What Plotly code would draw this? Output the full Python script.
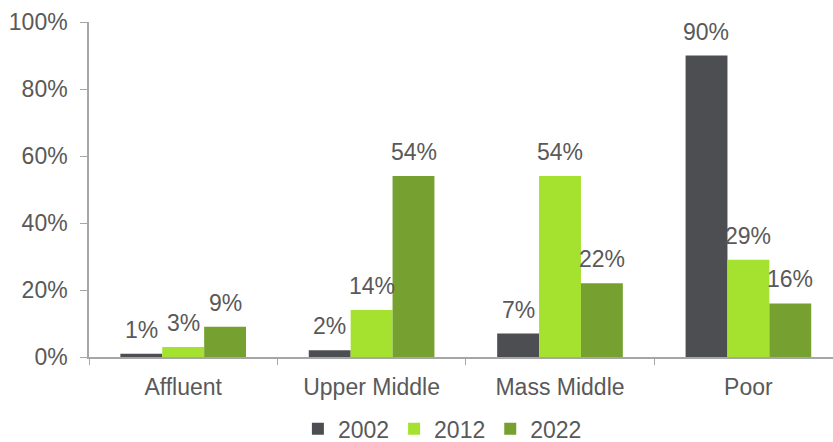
import plotly.graph_objects as go

categories = ["Affluent", "Upper Middle", "Mass Middle", "Poor"]
years = ["2002", "2012", "2022"]
share_2002 = [1, 2, 7, 90]
share_2012 = [3, 14, 54, 29]
share_2022 = [9, 54, 22, 16]

colors = ["#4d4e52", "#a4e22f", "#76a131"]
text_color = "#595959"
axis_color = "#a6a6a6"
font = "Liberation Sans, Arial, sans-serif"
fsize = 23

series = [share_2002, share_2012, share_2022]

fig = go.Figure()
for name, vals, col in zip(years, series, colors):
    fig.add_trace(go.Bar(
        x=categories,
        y=vals,
        name=name,
        marker=dict(color=col, line=dict(width=0)),
    ))

# value labels above bars
bar_px = 42
for i, vals in enumerate(series):
    for cat, v in zip(categories, vals):
        fig.add_annotation(
            x=cat, y=v, text=f"{v}%",
            showarrow=False,
            xanchor="center", yanchor="bottom",
            xshift=(i - 1) * bar_px, yshift=9,
            font=dict(family=font, size=fsize, color=text_color),
        )

fig.update_layout(
    width=833, height=442,
    margin=dict(l=89, r=0, t=22, b=85, autoexpand=False),
    plot_bgcolor="white",
    paper_bgcolor="white",
    barmode="group",
    bargap=0.333,
    bargroupgap=0,
    font=dict(family=font, size=fsize, color=text_color),
    showlegend=True,
    legend=dict(
        orientation="h",
        x=0.475, xanchor="center",
        yref="container",
        y=0.03, yanchor="middle",
        font=dict(family=font, size=fsize, color=text_color),
        itemwidth=30,
        traceorder="normal",
    ),
    xaxis=dict(
        range=[-0.5, 3.449],
        automargin=False,
        showline=True,
        linecolor=axis_color,
        linewidth=1.5,
        ticks="outside",
        tickson="boundaries",
        ticklen=6,
        tickcolor=axis_color,
        showgrid=False,
        ticklabelstandoff=9,
        tickfont=dict(family=font, size=fsize, color=text_color),
    ),
    yaxis=dict(
        range=[0, 100],
        automargin=False,
        tickvals=[0, 20, 40, 60, 80, 100],
        ticktext=["0%", "20%", "40%", "60%", "80%", "100%"],
        showline=True,
        linecolor=axis_color,
        linewidth=1.5,
        ticks="outside",
        ticklen=7,
        tickcolor=axis_color,
        showgrid=False,
        zeroline=False,
        ticklabelstandoff=8,
        tickfont=dict(family=font, size=fsize, color=text_color),
    ),
)

fig.write_html(
    "out.html",
    config={"displayModeBar": False},
    post_script="document.body.style.margin='0';",
)
